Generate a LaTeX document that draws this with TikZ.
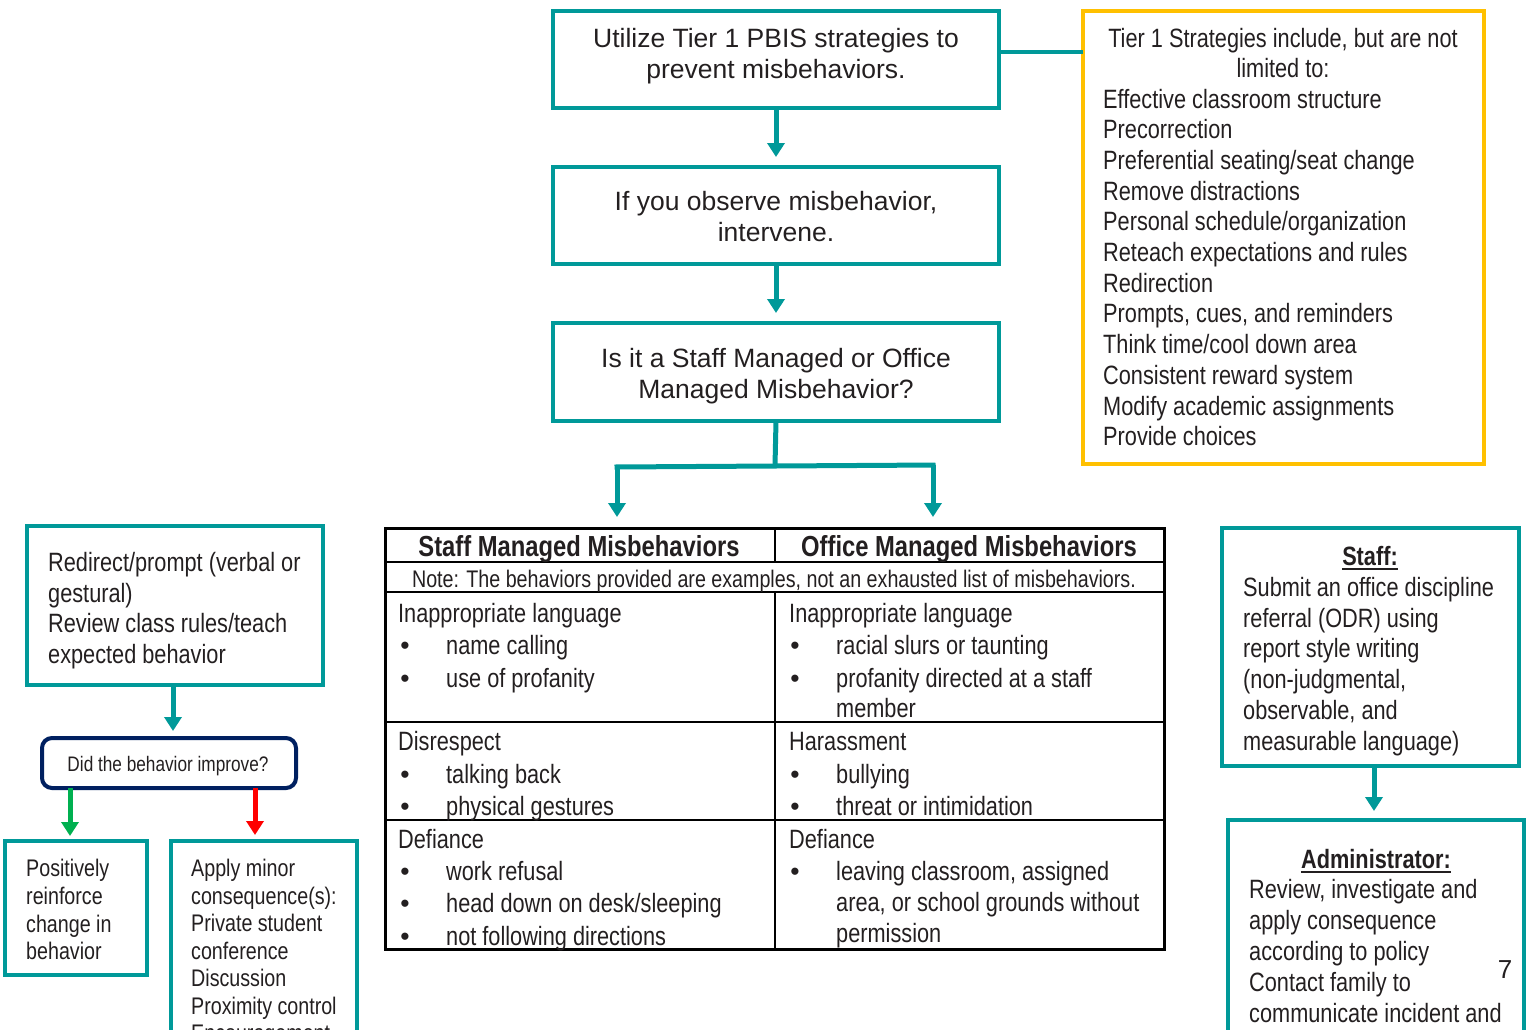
\documentclass[tikz,border=0pt]{standalone}
\usepackage{fontspec}
\setmainfont{Liberation Sans}
\newfontfamily\nar[FakeStretch=0.82]{Liberation Sans}
\usetikzlibrary{arrows.meta}
\definecolor{tealc}{RGB}{0,153,153}
\definecolor{gold}{RGB}{255,192,0}
\definecolor{navy}{RGB}{0,32,96}
\definecolor{grn}{RGB}{0,176,80}
\definecolor{ink}{RGB}{35,31,32}
\begin{document}
\begin{tikzpicture}[x=1pt,y=-1pt,
  tbox/.style={draw=tealc, line width=4pt, inner sep=0pt, outer sep=0pt, anchor=north west},
  arr/.style={draw=tealc, line width=5pt, -{Triangle[width=17pt,length=14pt]}},
  tx/.style={inner sep=0pt, text=ink},
  big/.style={tx, anchor=base, font=\fontsize{26.5}{31}\selectfont},
  nr/.style={tx, anchor=base west, font=\nar\fontsize{26.5}{31}\selectfont},
  nrc/.style={tx, anchor=base, font=\nar\fontsize{26.5}{31}\selectfont},
  nrb/.style={tx, anchor=base, font=\nar\bfseries\fontsize{26.5}{31}\selectfont},
  hd/.style={tx, anchor=base, font=\nar\bfseries\fontsize{29}{33}\selectfont},
  sm/.style={tx, anchor=base west, font=\nar\fontsize{24}{28}\selectfont},
  bul/.style={tx, anchor=base, font=\fontsize{26.5}{31}\selectfont},
  tline/.style={draw=black, line width=2.5pt}
]
\useasboundingbox (0,0) rectangle (1529,1029);
\clip (0,0) rectangle (1529,1029);

% ---------- top flow ----------
\node[tbox, minimum width=446pt, minimum height=97pt] (b1) at (553,11) {};
\node[tbox, minimum width=446pt, minimum height=97pt] (b2) at (553,167) {};
\node[tbox, minimum width=446pt, minimum height=98pt] (b3) at (553,323) {};
\node[big] (b1a) at (776,47) {Utilize Tier 1 PBIS strategies to};
\node[big] (b1b) at (776,78) {prevent misbehaviors.};
\node[big] (b2a) at (776,210) {If you observe misbehavior,};
\node[big] (b2b) at (776,241) {intervene.};
\node[big] (b3a) at (776,367) {Is it a Staff Managed or Office};
\node[big] (b3b) at (776,398) {Managed Misbehavior?};

\draw[arr, shorten >=10pt] (b1.south) -- (b2.north);
\draw[arr, shorten >=10pt] (b2.south) -- (b3.north);

% ---------- tier 1 box ----------
\node[draw=gold, line width=4pt, inner sep=0pt, outer sep=0pt, anchor=north west,
      minimum width=401pt, minimum height=453pt] (t1) at (1083,11) {};
\draw[tealc, line width=4pt] (b1.east |- 0,52) -- (t1.west |- 0,52);
\node[nrc] (t1a) at (1283,47) {Tier 1 Strategies include, but are not};
\node[nrc] (t1b) at (1283,77.5) {limited to:};
\foreach \t [count=\i from 0] in {Effective classroom structure, Precorrection,
  Preferential seating/seat change, Remove distractions,
  Personal schedule/organization, Reteach expectations and rules, Redirection,
  {Prompts, cues, and reminders}, Think time/cool down area,
  Consistent reward system, Modify academic assignments, Provide choices}
  \node[nr, name=tl\i] at (1103,108+30.7*\i) {\t};

% ---------- split to table ----------
\coordinate (j) at (775,466);
\coordinate (jl) at (617,467);
\coordinate (jr) at (933,465);
\draw[tealc, line width=5pt] (b3.south) -- (j);
\draw[tealc, line width=5pt] ([xshift=-2.5pt]jl) -- ([xshift=2.5pt]jr);

% ---------- table ----------
\node[draw=black, line width=3pt, inner sep=0pt, outer sep=0pt, anchor=north west,
      minimum width=779pt, minimum height=421pt] (tab) at (385,528) {};
\draw[arr, shorten >=11pt] (jl) -- (jl |- tab.north);
\draw[arr, shorten >=11pt] (jr) -- (jr |- tab.north);
\draw[tline] (385,562) -- (1164,562);
\draw[tline] (385,592) -- (1164,592);
\draw[tline] (385,722) -- (1164,722);
\draw[tline] (385,820) -- (1164,820);
\draw[tline] (775,528) -- (775,562);
\draw[tline] (775,592) -- (775,949);

\node[hd] (h1) at (579,556) {Staff Managed Misbehaviors};
\node[hd] (h2) at (969,556) {Office Managed Misbehaviors};
\node[tx, anchor=base, font=\nar\fontsize{24}{28}\selectfont] (note) at (774,587)
  {Note: The behaviors provided are examples, not an exhausted list of misbehaviors.};

% left column
\node[nr] (l1) at (398,622) {Inappropriate language};
\node[nr] (l2) at (398,750) {Disrespect};
\node[nr] (l3) at (398,848) {Defiance};
\foreach \y/\t [count=\i] in {654/name calling, 687/use of profanity,
  783/talking back, 815/physical gestures, 880/work refusal,
  912/head down on desk\slash sleeping, 945/not following directions}{
  \node[bul, name=lb\i] at (405,\y) {•};
  \node[nr, name=li\i] at (446,\y) {\t};
}
% right column
\node[nr] (r1) at (789,622) {Inappropriate language};
\node[nr] (r2) at (789,750) {Harassment};
\node[nr] (r3) at (789,848) {Defiance};
\foreach \y/\t [count=\i] in {654/racial slurs or taunting,
  687/profanity directed at a staff, 783/bullying, 815/threat or intimidation,
  880/{leaving classroom, assigned}}{
  \node[bul, name=rb\i] at (795,\y) {•};
  \node[nr, name=ri\i] at (836,\y) {\t};
}
\node[nr] (rw1) at (836,717) {member};
\node[nr] (rw2) at (836,911) {area, or school grounds without};
\node[nr] (rw3) at (836,942) {permission};

% ---------- left flow ----------
\node[tbox, minimum width=296pt, minimum height=159pt] (rd) at (27,526) {};
\node[nr] (rd1) at (48,571) {Redirect/prompt (verbal or};
\node[nr] (rd2) at (48,602) {gestural)};
\node[nr] (rd3) at (48,632) {Review class rules/teach};
\node[nr] (rd4) at (48,663) {expected behavior};

\node[draw=navy, line width=4pt, rounded corners=10pt, inner sep=0pt, outer sep=0pt,
      anchor=north west, minimum width=254pt, minimum height=50pt] (did) at (42,738) {};
\node[tx, anchor=base, font=\nar\fontsize{21}{25}\selectfont] (didt) at (168,771)
  {Did the behavior improve?};
\draw[arr, shorten >=7pt] (rd.south -| 173,0) -- (did.north -| 173,0);

\node[tbox, minimum width=142pt, minimum height=134pt] (pos) at (5,841) {};
\node[tbox, minimum width=186pt, minimum height=220pt] (app) at (171,841) {};
\draw[arr, draw=grn, shorten >=5pt] (did.south -| 70,0) -- (pos.north -| 70,0);
\draw[arr, draw=red, shorten >=6pt] (did.south -| 255,0) -- (app.north -| 255,0);

\foreach \y/\t [count=\i] in {876/Positively, 904/reinforce, 932/change in, 959/behavior}
  \node[sm, name=p\i] at (26,\y) {\t};
\foreach \y/\t [count=\i] in {876/Apply minor, 904/consequence(s):, 931/Private student,
  959/conference, 986/Discussion, 1014/Proximity control, 1041/Encouragement}
  \node[sm, name=a\i] at (191,\y) {\t};

% ---------- right flow ----------
\node[tbox, minimum width=297pt, minimum height=238pt] (stf) at (1222,528) {};
\node[nrb] (stft) at (1370,565) {Staff:};
\draw[ink, line width=2pt] ([yshift=-3.5pt]stft.base west) -- ([yshift=-3.5pt]stft.base east);
\foreach \y/\t [count=\i] in {596/Submit an office discipline, 627/referral (ODR) using,
  657/report style writing, 688/{(non-judgmental,}, 719/{observable, and},
  750/measurable language)}
  \node[nr, name=s\i] at (1243,\y) {\t};

\node[tbox, minimum width=296pt, minimum height=230pt] (adm) at (1228,820) {};
\draw[arr, shorten >=9pt] (stf.south -| 1374,0) -- (adm.north -| 1374,0);
\node[nrb] (admt) at (1376,868) {Administrator:};
\draw[ink, line width=2pt] ([yshift=-3.5pt]admt.base west) -- ([yshift=-3.5pt]admt.base east);
\foreach \y/\t [count=\i] in {898/{Review, investigate and}, 929/apply consequence,
  960/according to policy, 991/Contact family to, 1022/communicate incident and}
  \node[nr, name=ad\i] at (1249,\y) {\t};

\node[tx, anchor=base, font=\fontsize{26}{30}\selectfont] (pg) at (1505,978) {7};
\end{tikzpicture}
\end{document}
